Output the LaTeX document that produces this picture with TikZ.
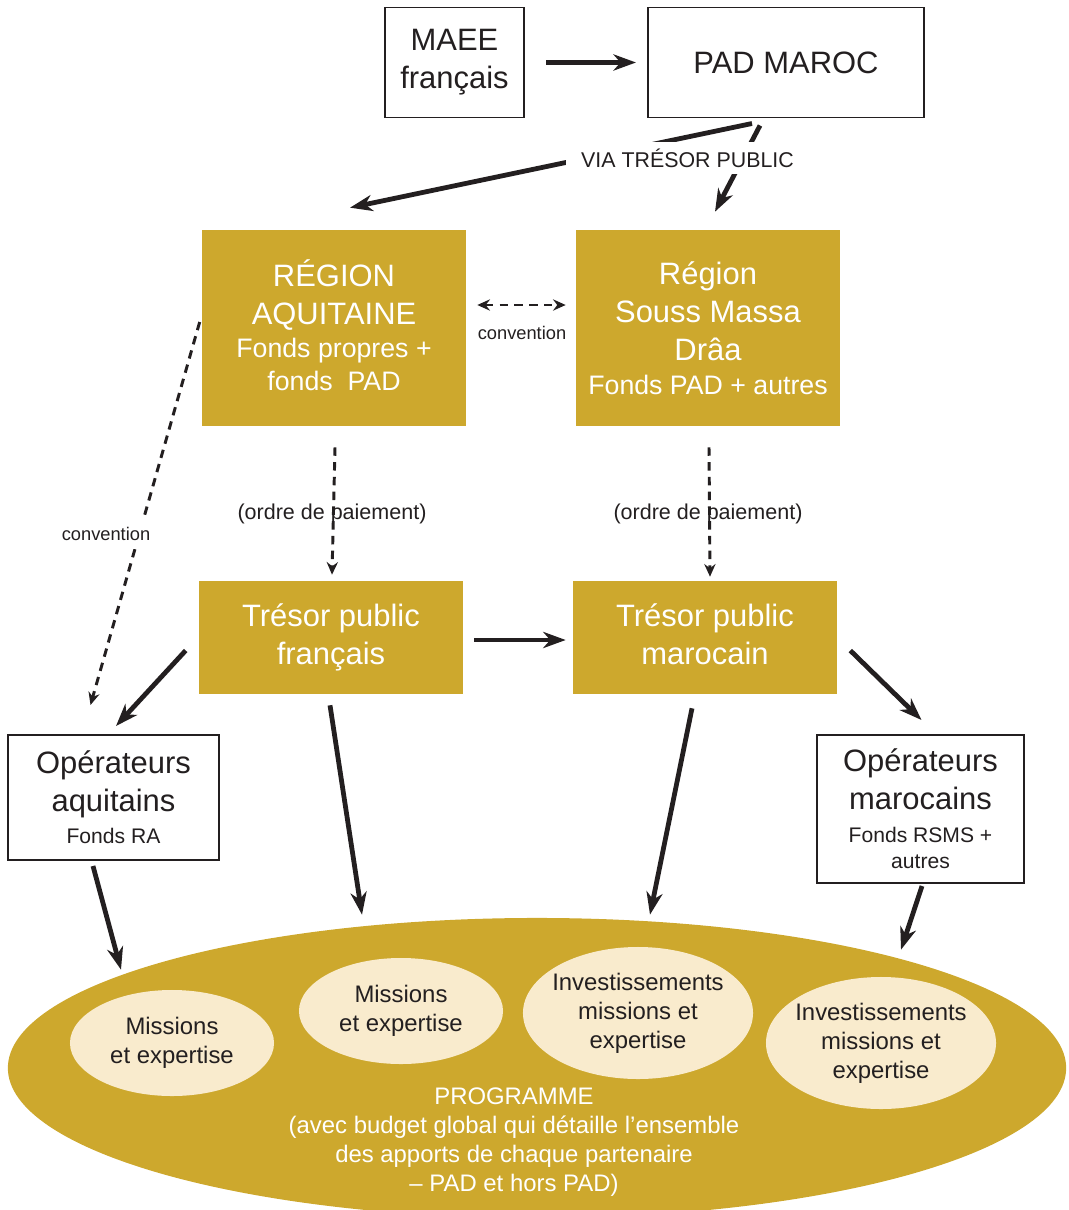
\documentclass[tikz,border=0pt]{standalone}
\usepackage{fontspec}
\setmainfont{Liberation Sans}
\usetikzlibrary{arrows.meta,calc,shapes.geometric}
\definecolor{ink}{RGB}{35,31,32}
\definecolor{gold}{RGB}{205,168,45}
\definecolor{cream}{RGB}{249,235,205}
\begin{document}
\begin{tikzpicture}[
    x=0.025cm, y=-0.025cm,
    big/.style={font=\fontsize{22}{27}\selectfont},
    box/.style={draw=ink, line width=1.4pt, fill=white, text=ink, align=center, inner sep=0pt},
    gold/.style={fill=gold, text=white, align=center, inner sep=0pt},
    blob/.style={ellipse, fill=cream, inner sep=0pt},
    blobtext/.style={text=ink, align=center, inner sep=0pt, font=\fontsize{17}{20.5}\selectfont},
    lbl/.style={text=ink, inner sep=0pt},
    flow/.style={draw=ink, line width=3.4pt, -{Stealth[length=16pt, width=11.5pt, inset=5pt]}},
    dflow/.style={draw=ink, line width=2.1pt, dash pattern=on 6pt off 4.5pt, -{Stealth[length=9pt, width=8pt, inset=3pt]}},
    ddflow/.style={dflow, {Stealth[length=9pt, width=8pt, inset=3pt]}-{Stealth[length=9pt, width=8pt, inset=3pt]}}
  ]
  \useasboundingbox (0,0) rectangle (1068,1210);
  % top row
  \node[box, big, minimum width=3.475cm, minimum height=2.75cm] (maee) at (454.5,62.5) {MAEE\\français};
  \node[box, big, minimum width=6.9cm, minimum height=2.75cm] (pad) at (786,62.5) {PAD MAROC};
  % regions
  \node[gold, big, text depth=4.5pt, minimum width=6.6cm, minimum height=4.9cm] (aqui) at (334,328)
    {RÉGION\\AQUITAINE\\[-3pt]{\fontsize{19}{23}\selectfont Fonds propres +}\\[-4pt]{\fontsize{19}{23}\selectfont fonds~~PAD}};
  \node[gold, big, minimum width=6.6cm, minimum height=4.9cm] (souss) at (708,328)
    {Région\\Souss Massa\\Drâa\\[-3pt]{\fontsize{19}{23}\selectfont Fonds PAD + autres}};
  % tresors
  \node[gold, big, minimum width=6.6cm, minimum height=2.825cm] (tfr) at (331,637.5) {Trésor public\\français};
  \node[gold, big, text depth=4.5pt, minimum width=6.6cm, minimum height=2.825cm] (tma) at (705,637.5) {Trésor public\\marocain};
  % operateurs
  \node[box, big, minimum width=5.25cm, minimum height=3.125cm] (opaq) at (113.5,797.5)
    {Opérateurs\\aquitains\\[-4pt]{\fontsize{15}{18}\selectfont Fonds RA}};
  \node[box, big, minimum width=5.175cm, minimum height=3.7cm] (opma) at (920.5,809)
    {Opérateurs\\marocains\\[-4pt]{\fontsize{15}{18}\selectfont Fonds RSMS +}\\[-8pt]{\fontsize{15}{18}\selectfont autres}};
  % programme
  \node[ellipse, fill=gold, inner sep=0pt, minimum width=26.45cm, minimum height=7.5cm] (prog) at (537,1068) {};
  \node[blob, minimum width=5.1cm, minimum height=2.65cm] (mis1) at (172,1043) {};
  \node[blob, minimum width=5.1cm, minimum height=2.65cm] (mis2) at (401,1011) {};
  \node[blob, minimum width=5.75cm, minimum height=3.3cm] (inv1) at (638,1013) {};
  \node[blob, minimum width=5.75cm, minimum height=3.3cm] (inv2) at (881,1043) {};
  \node[blobtext] (mis1txt) at (mis1) {Missions\\et expertise};
  \node[blobtext] (mis2txt) at (mis2) {Missions\\et expertise};
  \node[blobtext] (inv1txt) at (inv1) {Investissements\\missions et\\expertise};
  \node[blobtext] (inv2txt) at (inv2) {Investissements\\missions et\\expertise};
  \node[lbl, text=white, align=center, font=\fontsize{17}{20.5}\selectfont] (progtxt) at (514,1142)
    {PROGRAMME\\(avec budget global qui détaille l’ensemble\\des apports de chaque partenaire\\– PAD et hors PAD)};
  % flows
  \draw[flow] ($(maee.east)+(21,0)$) -- ($(pad.west)+(-11,0)$);
  \draw[flow] ($(pad.south)+(-34,5)$) -- ($(aqui.north)+(16,-22)$);
  \draw[flow] ($(pad.south)+(-26,7)$) -- ($(souss.north)+(7,-18)$);
  \node[lbl, fill=white, inner xsep=10.5pt, minimum height=23pt, font=\fontsize{15.2}{18}\selectfont] (via) at (687.5,158) {VIA TRÉSOR PUBLIC};
  \draw[ddflow] ($(aqui.east)+(11,-23)$) -- ($(souss.west)+(-10,-23)$);
  \node[lbl, font=\fontsize{13}{15}\selectfont] (conv) at (522,333) {convention};
  \draw[dflow] ($(aqui.south)+(1,21)$) -- ($(tfr.north)+(1,-6)$);
  \draw[dflow] ($(souss.south)+(1,21)$) -- ($(tma.north)+(5,-4)$);
  \node[lbl, font=\fontsize{15.3}{18}\selectfont] (ordfr) at (332,514) {(ordre de paiement)};
  \node[lbl, font=\fontsize{15.3}{18}\selectfont] (ordma) at (708,514) {(ordre de paiement)};
  \draw[dflow] ($(aqui.west)+(-2,-6)$) -- ($(opaq.north)+(-23,-29)$);
  \node[lbl, fill=white, inner xsep=1pt, inner ysep=6pt, font=\fontsize{13}{15}\selectfont] (convaq) at (106,534) {convention};
  \draw[flow] ($(tfr.east)+(11,2.5)$) -- ($(tma.west)+(-7,2.5)$);
  \draw[flow] ($(tfr.west)+(-13,13)$) -- ($(opaq.north)+(2.5,-8)$);
  \draw[flow] ($(tma.east)+(13,13)$) -- ($(opma.north)+(1,-14)$);
  \draw[flow] ($(tfr.south)+(-1,11)$) -- ($(prog.north)+(-175,-3)$);
  \draw[flow] ($(tma.south)+(-13,14)$) -- ($(prog.north)+(113,-3)$);
  \draw[flow] ($(opaq.south)+(-20.5,5)$) -- ($(prog.north)+(-416,52)$);
  \draw[flow] ($(opma.south)+(1.5,2)$) -- ($(prog.north)+(364,32)$);
\end{tikzpicture}
\end{document}
